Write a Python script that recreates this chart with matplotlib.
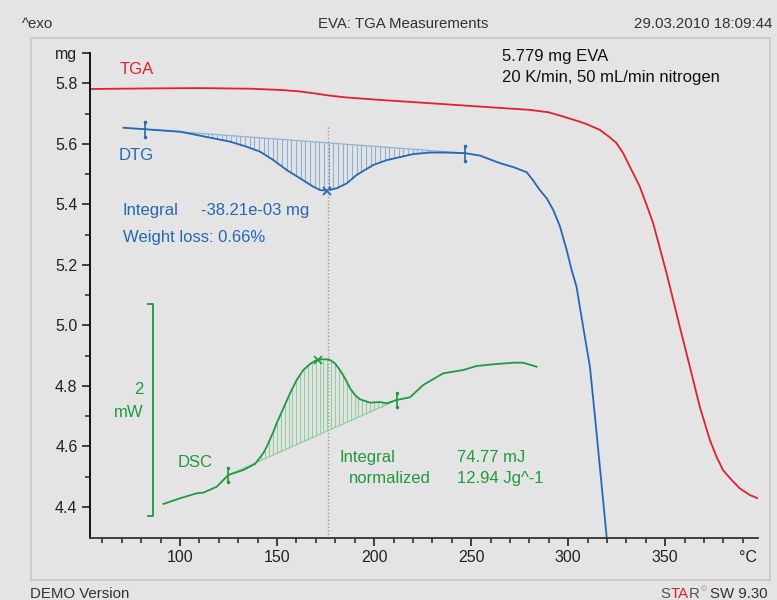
import numpy as np
import matplotlib
matplotlib.use("Agg")
from matplotlib import pyplot as plt
from matplotlib.patches import Rectangle

plt.rcParams['font.family'] = ['Liberation Sans', 'DejaVu Sans']

# TGA curve (temperature in degC, mass in mg)
tga_temp = [53.6, 84.5, 110.3, 136.0, 151.5, 161.8, 168.7, 177.3, 185.9, 203.0, 228.8,
            254.5, 280.3, 290.0, 297.4, 306.0, 309.5, 316.3, 321.5, 324.9, 328.3,
            331.8, 334.4, 336.9, 340.4, 343.8, 350.7, 357.5, 362.7, 367.8, 373.0,
            376.4, 379.8, 384.2, 388.4, 393.6, 397.8]
tga_mass = [5.781, 5.783, 5.784, 5.782, 5.778, 5.773, 5.767, 5.759, 5.753, 5.745, 5.734,
            5.723, 5.712, 5.704, 5.690, 5.673, 5.665, 5.646, 5.621, 5.602, 5.569,
            5.524, 5.491, 5.458, 5.398, 5.337, 5.172, 4.995, 4.863, 4.731, 4.621,
            4.566, 4.521, 4.489, 4.461, 4.439, 4.428]

# DTG curve (plotted on the mg scale)
dtg_temp = [70.8, 82.0, 100.0, 117.2, 125.8, 134.4, 141.2, 148.1, 155.0, 161.8, 168.7,
            172.1, 175.6, 180.7, 185.9, 191.0, 199.6, 206.5, 220.2, 228.8, 237.4,
            246.8, 254.5, 264.8, 271.7, 278.6, 281.8, 285.4, 288.9, 292.3, 295.7,
            299.2, 301.8, 304.3, 307.7, 311.2, 313.8, 316.3, 319.8]
dtg_val = [5.653, 5.648, 5.640, 5.618, 5.607, 5.590, 5.574, 5.546, 5.513, 5.486, 5.458,
           5.447, 5.445, 5.453, 5.469, 5.497, 5.530, 5.546, 5.566, 5.571, 5.571,
           5.569, 5.561, 5.536, 5.523, 5.506, 5.480, 5.447, 5.420, 5.381, 5.328,
           5.249, 5.182, 5.127, 4.995, 4.863, 4.698, 4.533, 4.301]
dtg_limits = [82.0, 246.8]
dtg_min = 175.6

# DSC curve (heat flow in mW, arbitrary offset)
dsc_temp = [91.4, 100.0, 108.6, 112.0, 118.9, 124.9, 132.6, 138.6, 142.9, 144.7, 148.1,
            149.8, 156.7, 160.1, 163.5, 167.0, 170.4, 172.1, 175.6, 177.3, 179.8,
            182.4, 185.0, 187.6, 190.1, 192.7, 197.9, 203.0, 206.5, 211.6, 218.5,
            225.3, 235.6, 245.9, 252.8, 263.1, 271.7, 276.8, 283.7]
dsc_mw = [0.113, 0.167, 0.214, 0.220, 0.276, 0.387, 0.434, 0.491, 0.592, 0.654, 0.795,
          0.875, 1.158, 1.283, 1.377, 1.434, 1.472, 1.478, 1.478, 1.472, 1.440,
          1.377, 1.299, 1.205, 1.142, 1.101, 1.069, 1.075, 1.063, 1.094, 1.120,
          1.236, 1.346, 1.377, 1.415, 1.434, 1.446, 1.446, 1.408]
dsc_limits = [124.9, 211.6]
dsc_peak = 171.1

xticks = [100, 150, 200, 250, 300, 350]
yticks = [4.4, 4.6, 4.8, 5.0, 5.2, 5.4, 5.6, 5.8, 5.9]
ylabels = ["4.4", "4.6", "4.8", "5.0", "5.2", "5.4", "5.6", "5.8", "mg"]

red = "#e3202b"
blue = "#2468b8"
green = "#1f9a3f"
bg = "#e3e4e3"
fs = 12

fig = plt.figure(figsize=(7.77, 6.0), dpi=100, facecolor=bg)
W, H = 777.0, 600.0

# panel frame
fig.patches.append(Rectangle((31 / W, 1 - 580 / H), 739 / W, 542 / H, transform=fig.transFigure,
                             facecolor="none", edgecolor="#c4c5c4", linewidth=1.2))

ax = fig.add_axes([90 / W, 1 - 537.7 / H, 668 / W, 485 / H])
ax.set_facecolor("none")
ax.set_xlim(53.6, 397.8)
ax.set_ylim(4.298, 5.901)
for s in ["top", "right"]:
    ax.spines[s].set_visible(False)
ax.spines["left"].set_linewidth(1.3)
ax.spines["bottom"].set_linewidth(1.3)
ax.spines["bottom"].set_color("#333333")

ax.set_xticks(xticks)
ax.set_xticks(np.arange(60, 400, 10), minor=True)
ax.set_yticks(yticks)
ax.set_yticklabels(ylabels)
ax.set_yticks(np.arange(4.5, 5.8, 0.2), minor=True)
ax.tick_params(axis="both", which="major", length=6, width=1.2, labelsize=11.5, colors="#222222", pad=3)
ax.tick_params(axis="both", which="minor", length=3.5, width=1.2, colors="#333333")

# TGA
ax.plot(tga_temp, tga_mass, color=red, lw=1.3)

# DTG with integration
base_y = np.interp(dtg_limits, dtg_temp, dtg_val)
hx = np.arange(dtg_limits[0] + 1.0, dtg_limits[1], 2.4)
hb = np.interp(hx, dtg_limits, base_y)
hc = np.interp(hx, dtg_temp, dtg_val)
ax.vlines(hx, hc, hb, color="#8cb0da", lw=0.8)
ax.plot(dtg_limits, base_y, color="#8cb0da", lw=0.9)
ax.plot(dtg_temp, dtg_val, color=blue, lw=1.3)
for t, v in zip(dtg_limits, base_y):
    ax.plot([t, t], [v - 0.025, v + 0.025], color=blue, lw=1.2)
    ax.plot([t, t], [v - 0.025, v + 0.025], ".", color=blue, ms=3)
ax.plot([dtg_min], [np.interp(dtg_min, dtg_temp, dtg_val)], "x", color=blue, ms=6, mew=1.3)
ax.axvline(176.2, ymin=0, ymax=0.85, color="#999999", lw=1, ls=(0, (1, 1.5)))

ax.text(69.1, 5.844, "TGA", color=red, fontsize=fs, va="center")
ax.text(68.1, 5.560, "DTG", color=blue, fontsize=fs, va="center")
ax.text(70.6, 5.381, "Integral", color=blue, fontsize=fs, va="center")
ax.text(110.8, 5.381, "-38.21e-03 mg", color=blue, fontsize=fs, va="center")
ax.text(70.6, 5.289, "Weight loss: 0.66%", color=blue, fontsize=fs, va="center")
ax.text(265.9, 5.887, "5.779 mg EVA", color="#111111", fontsize=fs, va="center")
ax.text(265.9, 5.818, "20 K/min, 50 mL/min nitrogen", color="#111111", fontsize=fs, va="center")
ax.text(392.5, -0.025, "\u00b0C", transform=ax.get_xaxis_transform(), fontsize=11.5,
        color="#222222", ha="center", va="top")

# DSC on its own heat-flow scale
ax2 = ax.twinx()
ax2.set_ylim(-0.205, 4.371)
ax2.axis("off")
dbase = np.interp(dsc_limits, dsc_temp, dsc_mw)
gx = np.arange(dsc_limits[0] + 1.0, dsc_limits[1], 2.0)
gb = np.interp(gx, dsc_limits, dbase)
gc = np.interp(gx, dsc_temp, dsc_mw)
ax2.vlines(gx, gb, gc, color="#94cfa3", lw=0.8)
ax2.plot(dsc_limits, dbase, color="#94cfa3", lw=0.9)
ax2.plot(dsc_temp, dsc_mw, color=green, lw=1.3)
for t, v in zip(dsc_limits, dbase):
    ax2.plot([t, t], [v - 0.07, v + 0.07], color=green, lw=1.2)
    ax2.plot([t, t], [v - 0.07, v + 0.07], ".", color=green, ms=3)
ax2.plot([dsc_peak], [np.interp(dsc_peak, dsc_temp, dsc_mw)], "x", color=green, ms=6, mew=1.2)

# 2 mW scale bar
ax2.plot([83.5, 86.1, 86.1, 83.5], [2.0, 2.0, 0.0, 0.0], color=green, lw=1.3)
ax2.text(81.2, 1.19, "2", color=green, fontsize=fs, ha="right", va="center")
ax2.text(81.2, 0.98, "mW", color=green, fontsize=fs, ha="right", va="center")

ax2.text(98.5, 0.509, "DSC", color=green, fontsize=fs, va="center")
ax2.text(182.4, 0.547, "Integral", color=green, fontsize=fs, va="center")
ax2.text(242.7, 0.547, "74.77 mJ", color=green, fontsize=fs, va="center")
ax2.text(187.0, 0.358, "normalized", color=green, fontsize=fs, va="center")
ax2.text(242.7, 0.358, "12.94 Jg^-1", color=green, fontsize=fs, va="center")

# header and footer
fig.text(22 / W, 1 - 24 / H, "^exo", fontsize=10.8, color="#333333", va="center")
fig.text(403 / W, 1 - 24 / H, "EVA: TGA Measurements", fontsize=10.8, color="#333333",
         va="center", ha="center")
fig.text(772 / W, 1 - 24 / H, "29.03.2010 18:09:44", fontsize=10.8, color="#333333",
         va="center", ha="right")
fig.text(30 / W, 1 - 594 / H, "DEMO Version", fontsize=10.8, color="#333333", va="center")

# STAR logo pieces placed one after another
renderer = fig.canvas.get_renderer()
xpos = 660.0
for piece, col, size, dy in [("S", "#555555", 10.8, 0), ("TA", red, 10.8, 0), ("R", "#555555", 10.8, 0),
                             ("\u00a9", "#e07070", 6, 4)]:
    t = fig.text(xpos / W, 1 - (594 - dy) / H, piece, fontsize=size, color=col, va="center")
    xpos += t.get_window_extent(renderer).width + 0.5
fig.text(768 / W, 1 - 594 / H, "SW 9.30", fontsize=10.8, color="#333333", va="center", ha="right")

plt.savefig("out.png", dpi=100, facecolor=bg)
